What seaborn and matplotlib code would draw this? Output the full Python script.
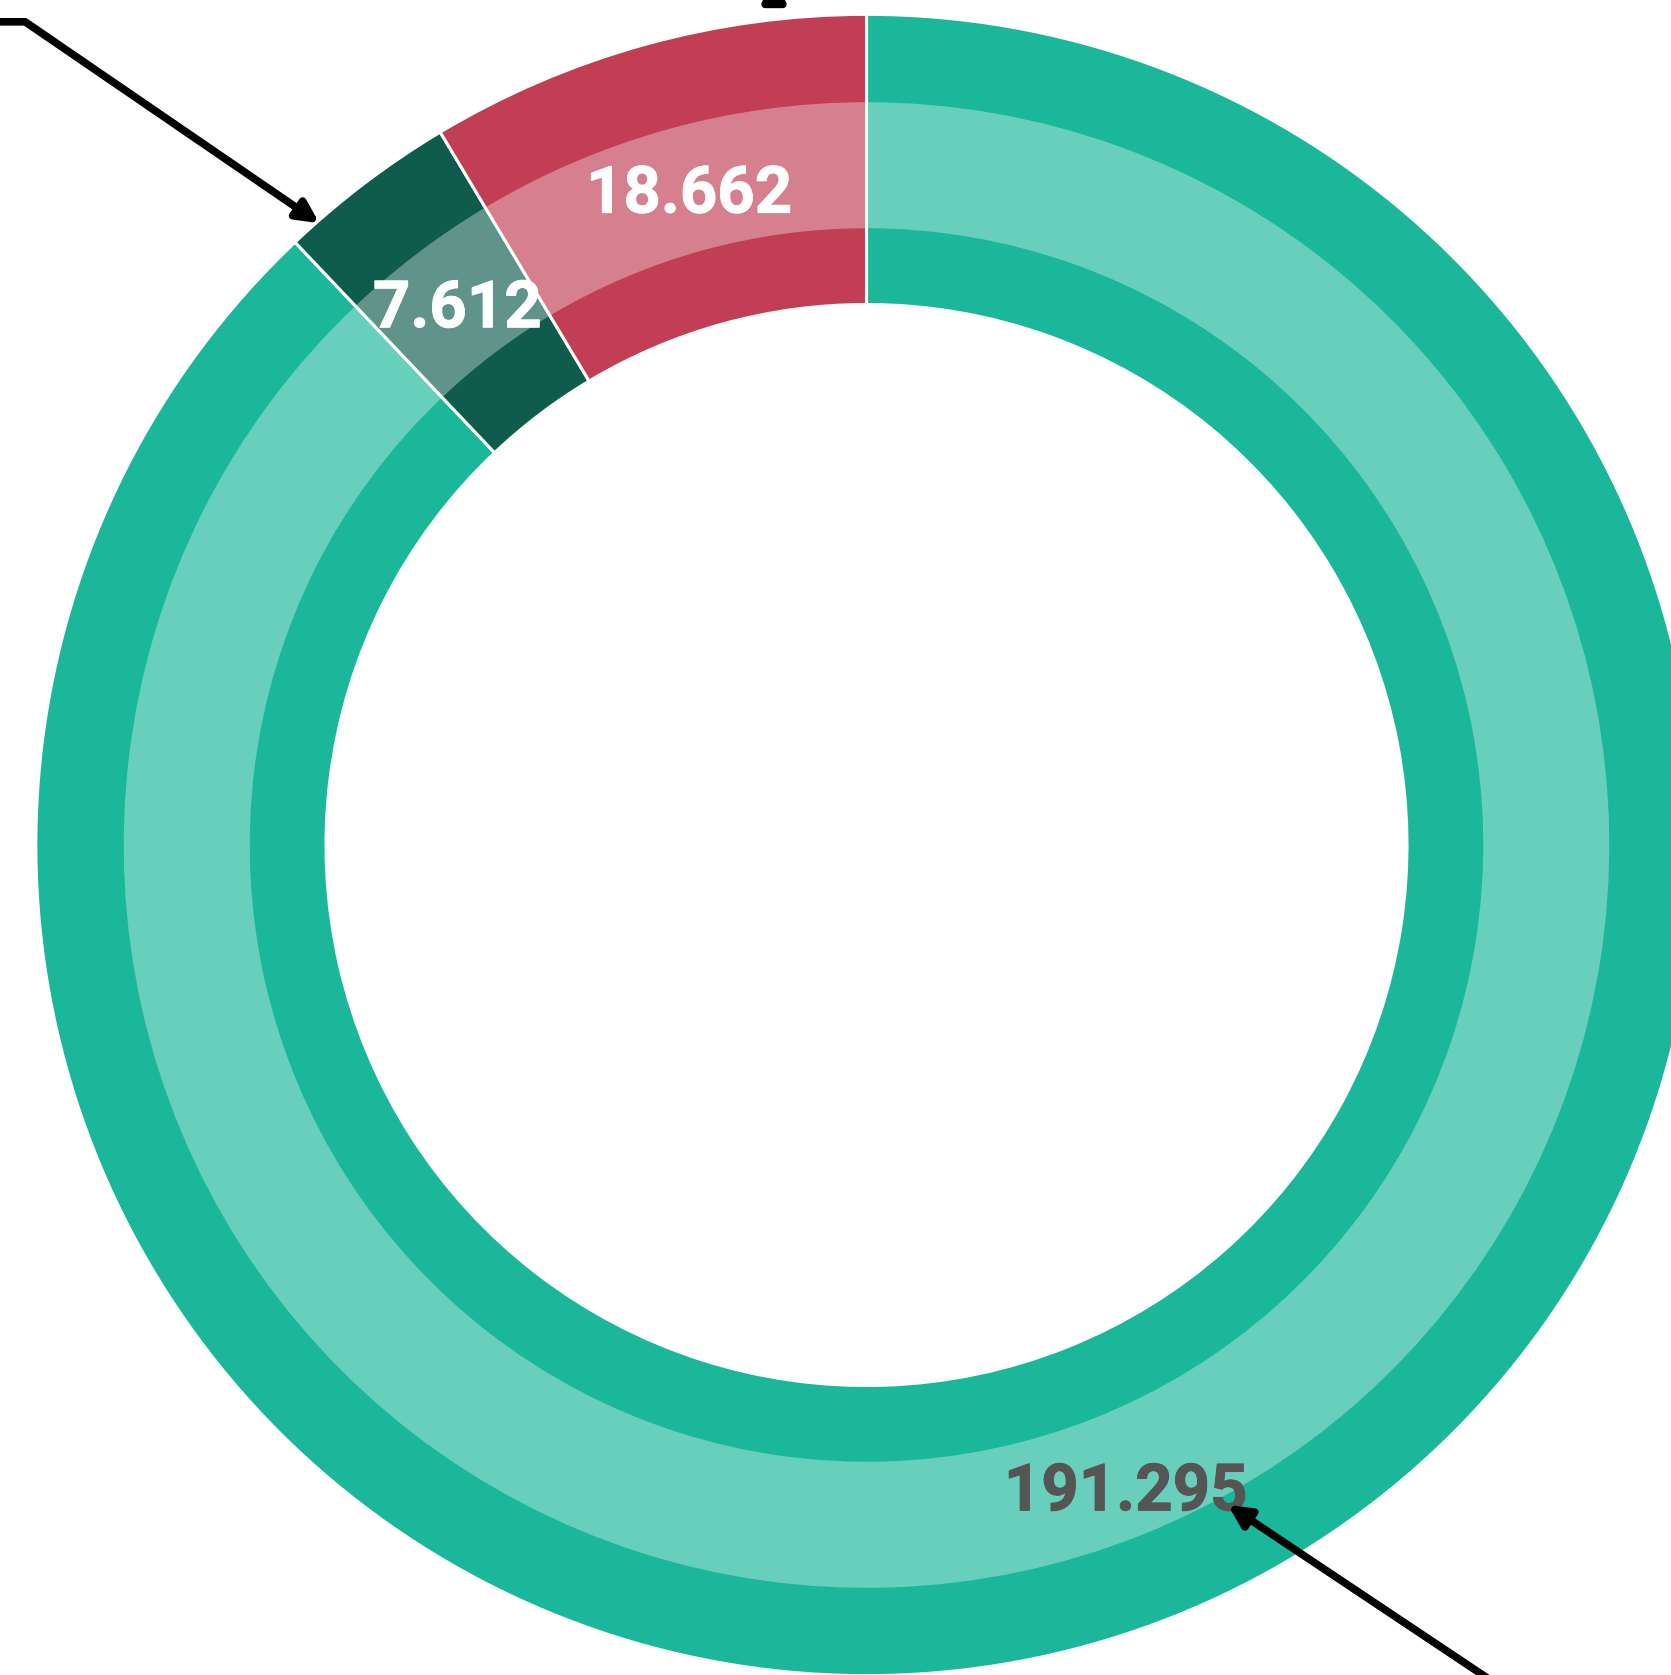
import numpy as np
import matplotlib
matplotlib.use("Agg")
import matplotlib.pyplot as plt
import matplotlib.patheffects as pe
import seaborn as sns

# ---- data ----
categories = ["Segment A", "Segment B", "Segment C"]
values = [191.295, 7.612, 18.662]
value_labels = ["191.295", "7.612", "18.662"]
segment_colors = ["#1BB79A", "#0F5C4D", "#C13E55"]
label_colors = ["#555555", "#FFFFFF", "#FFFFFF"]

sns.set_theme(style="white")
plt.rcParams['font.family'] = ['Roboto', 'DejaVu Sans']

W, H, DPI = 1671, 1675, 100
PX = 829.0  # pixels per data unit (outer radius)
fig = plt.figure(figsize=(W / DPI, H / DPI), dpi=DPI)
ax = fig.add_axes([0, 0, 1, 1])

palette = sns.color_palette(segment_colors)

R_OUT = 1.002
R_IN = 0.652
wedges, _ = ax.pie(values, colors=palette, startangle=90, counterclock=False,
                   radius=R_OUT,
                   wedgeprops=dict(width=R_OUT - R_IN, edgecolor="white", linewidth=2.2))

# translucent lighter band in the middle of the ring
ax.pie(values, colors=["white"] * len(values), startangle=90, counterclock=False,
       radius=0.896, wedgeprops=dict(width=0.152, linewidth=0, alpha=0.34))

for w, lab, col in zip(wedges, value_labels, label_colors):
    ang = np.deg2rad((w.theta1 + w.theta2) / 2)
    x = 0.827 * np.cos(ang) + 5 / PX
    y = 0.827 * np.sin(ang) - (23.5 + 5) / PX
    ax.text(x, y, lab, ha="center", va="baseline",
            fontsize=47, fontweight="bold", color=col,
            path_effects=[pe.withStroke(linewidth=0.7, foreground=col)])

arrow_kw = dict(arrowstyle="-|>", color="black", lw=5.5, mutation_scale=32,
                shrinkA=0, shrinkB=0)
ax.annotate("", xy=(-0.660, 0.750), xytext=(-1.07, 0.993),
            arrowprops=dict(**arrow_kw, connectionstyle="angle,angleA=0,angleB=145.6"),
            annotation_clip=False)
ax.annotate("", xy=(0.436, -0.796), xytext=(0.812, -1.047),
            arrowprops=dict(**arrow_kw), annotation_clip=False)
ax.annotate("", xy=(-0.1116, 1.0458), xytext=(-0.1116, 1.0241),
            arrowprops=dict(**arrow_kw), annotation_clip=False)

# centre at pixel (866.5, 845), outer radius 829 px
ax.set_xlim(-866.5 / PX, (W - 866.5) / PX)
ax.set_ylim((845 - H) / PX, 845 / PX)
ax.set_aspect("auto")
ax.axis("off")

fig.savefig("out.png", dpi=DPI)
